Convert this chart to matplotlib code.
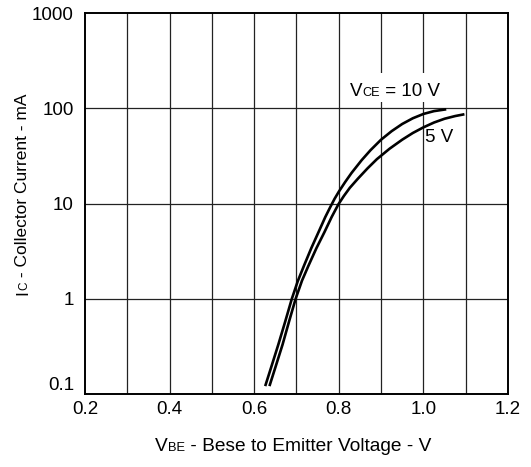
import matplotlib
matplotlib.use("Agg")
import matplotlib.pyplot as plt
from matplotlib.patches import Rectangle
from matplotlib.ticker import FixedLocator, NullLocator

plt.rcParams['font.family'] = ['Liberation Sans', 'DejaVu Sans']

# Base-emitter voltage (V) vs collector current (mA), V_CE = 10 V
vbe_10v = [0.626, 0.640, 0.657, 0.673, 0.689, 0.703, 0.718, 0.735, 0.752, 0.768,
           0.780, 0.790, 0.800, 0.815, 0.830, 0.854, 0.875, 0.900, 0.925, 0.950,
           0.975, 1.000, 1.025, 1.054]
ic_10v = [0.121, 0.19, 0.33, 0.57, 1.0, 1.53, 2.24, 3.4, 5.0, 7.2,
          9.2, 11.2, 13.3, 16.8, 20.9, 28.5, 36.3, 46.8, 57.5, 68.4,
          78.5, 87.1, 93.3, 97.5]

# V_CE = 5 V
vbe_5v = [0.636, 0.650, 0.667, 0.683, 0.698, 0.713, 0.728, 0.747, 0.766, 0.783,
          0.799, 0.812, 0.826, 0.845, 0.868, 0.890, 0.920, 0.950, 0.975, 1.000,
          1.025, 1.050, 1.075, 1.097]
ic_5v = [0.121, 0.19, 0.33, 0.59, 1.0, 1.55, 2.21, 3.39, 5.0, 7.2,
         9.8, 12.0, 14.6, 18.2, 23.4, 29.2, 37.6, 46.8, 55.0, 63.0,
         70.8, 77.6, 82.8, 86.5]

x_ticks = [0.2, 0.4, 0.6, 0.8, 1.0, 1.2]
x_tick_labels = ["0.2", "0.4", "0.6", "0.8", "1.0", "1.2"]
x_grid = [0.3, 0.4, 0.5, 0.6, 0.7, 0.8, 0.9, 1.0, 1.1]
y_ticks = [0.1, 1, 10, 100, 1000]
y_tick_labels = ["0.1", "1", "10", "100", "1000"]

W, H = 531, 467
fig = plt.figure(figsize=(W / 100, H / 100), dpi=100)
ax_l, ax_r, ax_t, ax_b = 85, 508, 13, 394
ax = fig.add_axes([ax_l / W, 1 - ax_b / H, (ax_r - ax_l) / W, (ax_b - ax_t) / H])

ax.set_yscale('log')
ax.set_xlim(0.2, 1.2)
ax.set_ylim(0.1, 1000)

# grid
for xv in x_grid:
    ax.axvline(xv, color='#222222', lw=0.9, zorder=1)
for yv in y_ticks[1:-1]:
    ax.axhline(yv, color='#222222', lw=0.9, zorder=1)

ax.plot(vbe_10v, ic_10v, color='black', lw=1.9, solid_capstyle='butt',
        solid_joinstyle='round', zorder=3)
ax.plot(vbe_5v, ic_5v, color='black', lw=1.9, solid_capstyle='butt',
        solid_joinstyle='round', zorder=3)

for s in ax.spines.values():
    s.set_linewidth(1.4)
    s.set_color('black')

tick_fs = 13.5
ax.xaxis.set_major_locator(FixedLocator(x_ticks))
ax.set_xticklabels(x_tick_labels)
ax.yaxis.set_major_locator(FixedLocator(y_ticks))
ax.yaxis.set_minor_locator(NullLocator())
ax.set_yticklabels(y_tick_labels)
ax.tick_params(axis='both', which='both', length=0, labelsize=tick_fs, colors='black')
ax.tick_params(axis='x', pad=5)
ax.tick_params(axis='y', pad=8)
for lab in ax.get_yticklabels():
    if lab.get_text() == "0.1":
        lab.set_va('bottom')

renderer = fig.canvas.get_renderer()


def pieces_text(x_px, y_px, pieces, rotation=0):
    """Draw text runs of mixed size sharing one baseline, starting at pixel (x, y from top)."""
    x, y = x_px, H - y_px
    for s, size in pieces:
        t = fig.text(x / W, y / H, s, fontsize=size, ha='left', va='baseline',
                     rotation=rotation, rotation_mode='anchor', color='black', zorder=5)
        bb = t.get_window_extent(renderer=renderer)
        if rotation == 0:
            x += bb.width
        else:
            y += bb.height


# white backing behind the V_CE label so grid lines break around it
fig.patches.append(Rectangle((348 / W, 1 - 102 / H), 95 / W, 29 / H,
                             transform=fig.transFigure, facecolor='white',
                             edgecolor='none', zorder=4))

pieces_text(155, 451, [("V", 13.75), ("BE", 9.3), (" - Bese to Emitter Voltage - V", 13.75)])
pieces_text(27, 295, [("I", 12.5), ("C", 8.5), (" - Collector Current - mA", 12.5)], rotation=90)
pieces_text(350, 96, [("V", 13.5), ("CE", 9.2), (" = 10 V", 13.5)])
pieces_text(425, 142, [("5 V", 13.5)])

fig.savefig("out.png", dpi=100, facecolor='white')
